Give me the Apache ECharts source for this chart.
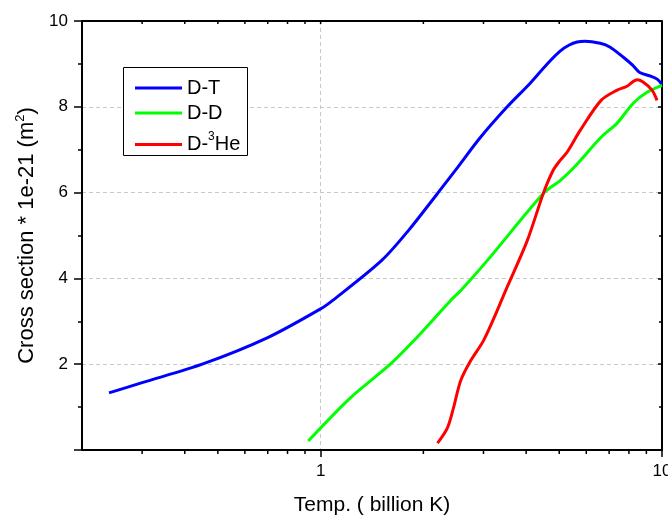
<!DOCTYPE html>
<html>
<head>
<meta charset="utf-8">
<script src="https://cdn.jsdelivr.net/npm/echarts@6/dist/echarts.min.js"></script>
<style>
html,body{margin:0;padding:0;background:#fff;}
#main{width:668px;height:515px;}
</style>
</head>
<body>
<div id="main"></div>
<script>
// temperature (billion K) and cross section (1e-21 m^2)
var dtTemp = [0.24, 0.30, 0.45, 0.70, 1.0, 1.09, 1.51, 1.81, 2.2, 2.52, 2.94, 3.52, 4.11, 4.61, 5.03, 5.35, 5.64, 5.95, 6.59, 7.05, 7.69, 8.2, 8.6, 9.3, 9.7, 10];
var dtVal  = [1.33, 1.57, 2.0, 2.62, 3.29, 3.5, 4.42, 5.12, 5.98, 6.59, 7.29, 8.0, 8.55, 9.0, 9.3, 9.44, 9.51, 9.53, 9.48, 9.39, 9.16, 8.97, 8.8, 8.71, 8.64, 8.52];
var ddTemp = [0.92, 1.22, 1.6, 1.96, 2.4, 2.57, 3.08, 4.49, 5.03, 5.53, 6.63, 7.39, 8.25, 9.04, 10];
var ddVal  = [0.21, 1.21, 2.0, 2.71, 3.48, 3.71, 4.42, 5.98, 6.28, 6.59, 7.29, 7.62, 8.09, 8.34, 8.5];
var dheTemp = [2.2, 2.35, 2.45, 2.57, 2.75, 3.0, 3.29, 3.48, 4.03, 4.49, 4.8, 5.03, 5.27, 5.76, 6.63, 7.39, 7.9, 8.2, 8.45, 8.8, 9.35, 9.67];
var dheVal  = [0.16, 0.51, 0.98, 1.61, 2.08, 2.55, 3.25, 3.71, 4.88, 5.98, 6.52, 6.75, 6.94, 7.45, 8.15, 8.39, 8.48, 8.58, 8.63, 8.58, 8.39, 8.15];
var seriesNames = ['D-T', 'D-D', 'D-3He'];
var xMinorTicks = [0.3, 0.4, 0.5, 0.6, 0.7, 0.8, 0.9, 2, 3, 4, 5, 6, 7, 8, 9];
var xTopTicks = [0.3, 0.4, 0.5, 0.6, 0.7, 0.8, 0.9, 1, 2, 3, 4, 5, 6, 7, 8, 9];

var FONT = 'Liberation Sans, Arial, sans-serif';

function zip(xs, ys){
	var out = [];
	for (var i = 0; i < xs.length; i++) out.push([xs[i], ys[i]]);
	return out;
}

function lineSeries(name, data, color){
	return {
		name: name,
		type: 'line',
		data: data,
		smooth: 0.3,
		symbol: 'none',
		lineStyle: {color: color, width: 3},
		itemStyle: {color: color},
		z: 3
	};
}

function tickSeries(data, len, atTop){
	return {
		type: 'custom',
		silent: true,
		clip: false,
		z: 10,
		data: data.map(function(v){ return [v, atTop ? 10 : 0]; }),
		renderItem: function(params, api){
			var p = api.coord([api.value(0), api.value(1)]);
			return {
				type: 'line',
				shape: {x1: p[0], y1: p[1], x2: p[0], y2: p[1] + len},
				style: {stroke: '#000', lineWidth: 1.5}
			};
		}
	};
}

function legendPart(names, top){
	return {
		orient: 'vertical',
		left: 123,
		top: top,
		data: names,
		icon: 'rect',
		itemWidth: 47,
		itemHeight: 3,
		itemGap: 5,
		padding: [0, 7, 0, 12],
		formatter: function(name){
			if (name == 'D-3He') return 'D-{sup|3}He';
			return name;
		},
		textStyle: {
			fontFamily: FONT,
			fontSize: 20,
			color: '#000',
			rich: {
				sup: {fontFamily: FONT, fontSize: 12, color: '#000', verticalAlign: 'bottom', padding: [0, 0, 15, 0]}
			}
		}
	};
}

function show_chart(id){
	var option = {
		animation: false,
		grid: {left: 82, right: 6, top: 21, bottom: 65, outerBoundsMode: 'none'},
		legend: [
			legendPart([seriesNames[0], seriesNames[1]], 78),
			legendPart([seriesNames[2]], 131)
		],
		graphic: [{
			type: 'rect',
			shape: {x: 123.5, y: 67.5, width: 124, height: 88},
			style: {fill: '#fff', stroke: '#000', lineWidth: 1},
			z: 1
		}, {
			type: 'line',
			shape: {x1: 82, y1: 21, x2: 662, y2: 21},
			style: {stroke: '#000', lineWidth: 2},
			z: 10
		}],
		xAxis: {
			type: 'log',
			logBase: 10,
			min: 0.2,
			max: 10,
			name: 'Temp. ( billion K)',
			nameLocation: 'middle',
			nameGap: 45,
			nameTextStyle: {fontFamily: FONT, fontSize: 21, color: '#000'},
			axisLine: {lineStyle: {color: '#000', width: 2}},
			axisTick: {length: 7, lineStyle: {color: '#000', width: 1.5}},
			axisLabel: {
				showMinLabel: false,
				margin: 13,
				fontFamily: FONT,
				fontSize: 17,
				color: '#000',
				formatter: function(v){ return String(+v.toPrecision(3)); }
			},
			splitLine: {show: true, lineStyle: {color: '#c8c8c8', type: [4, 3], width: 1}}
		},
		yAxis: [{
			type: 'value',
			min: 0,
			max: 10,
			interval: 2,
			name: 'Cross section * 1e-21 (m{sup|2})',
			nameLocation: 'middle',
			nameGap: 40,
			nameTextStyle: {
				fontFamily: FONT,
				fontSize: 22,
				color: '#000',
				rich: {
					sup: {fontFamily: FONT, fontSize: 13, color: '#000', verticalAlign: 'bottom', padding: [0, 0, 14, 0]}
				}
			},
			axisLine: {show: true, lineStyle: {color: '#000', width: 2}},
			axisTick: {show: true, length: 8, lineStyle: {color: '#000', width: 1.5}},
			minorTick: {show: true, splitNumber: 2, length: 4, lineStyle: {color: '#000', width: 1.5}},
			axisLabel: {showMinLabel: false, margin: 14, fontFamily: FONT, fontSize: 17, color: '#000'},
			splitLine: {show: true, lineStyle: {color: '#c8c8c8', type: [4, 3], width: 1}}
		}, {
			type: 'value',
			position: 'right',
			min: 0,
			max: 10,
			interval: 2,
			axisLine: {show: true, lineStyle: {color: '#000', width: 2}},
			axisTick: {show: true, inside: true, length: 4, lineStyle: {color: '#000', width: 1.5}},
			minorTick: {show: true, splitNumber: 2, length: 3, lineStyle: {color: '#000', width: 1.5}},
			axisLabel: {show: false},
			splitLine: {show: false}
		}],
		series: [
			lineSeries(seriesNames[0], zip(dtTemp, dtVal), '#0000ff'),
			lineSeries(seriesNames[1], zip(ddTemp, ddVal), '#00ff00'),
			lineSeries(seriesNames[2], zip(dheTemp, dheVal), '#ff0000'),
			tickSeries(xMinorTicks, 4, false),
			tickSeries(xTopTicks, 3, true)
		]
	};

	var myChart = echarts.init(document.getElementById(id), null, {renderer: 'canvas'});
	myChart.setOption(option);
}

show_chart('main');
</script>
</body>
</html>
